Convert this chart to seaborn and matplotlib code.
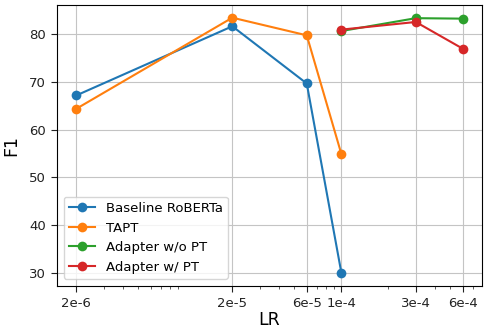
import matplotlib
matplotlib.use("Agg")
import matplotlib.pyplot as plt
import seaborn as sns
import pandas as pd
import numpy as np

# Learning rates and F1 scores per method
lr_roberta = [2e-6, 2e-5, 6e-5, 1e-4]
f1_roberta = [67.2, 81.7, 69.7, 30.0]
lr_tapt = [2e-6, 2e-5, 6e-5, 1e-4]
f1_tapt = [64.4, 83.5, 79.8, 54.9]
lr_adapter = [1e-4, 3e-4, 6e-4]
f1_adapter_nopt = [80.7, 83.4, 83.3]
f1_adapter_pt = [81.0, 82.6, 77.0]

xticks = [2e-6, 2e-5, 6e-5, 1e-4, 3e-4, 6e-4]
xtick_labels = ['2e-6', '2e-5', '6e-5', '1e-4', '3e-4', '6e-4']

df = pd.concat([
    pd.DataFrame({'LR': lr_roberta, 'F1': f1_roberta, 'Method': 'Baseline RoBERTa'}),
    pd.DataFrame({'LR': lr_tapt, 'F1': f1_tapt, 'Method': 'TAPT'}),
    pd.DataFrame({'LR': lr_adapter, 'F1': f1_adapter_nopt, 'Method': 'Adapter w/o PT'}),
    pd.DataFrame({'LR': lr_adapter, 'F1': f1_adapter_pt, 'Method': 'Adapter w/ PT'}),
])

fig, ax = plt.subplots(figsize=(4.85, 3.29), dpi=100)
sns.lineplot(data=df, x='LR', y='F1', hue='Method', marker='o', markersize=7,
             markeredgewidth=0, palette='tab10', ax=ax)
ax.set_xscale('log')
ax.set_xticks(xticks)
ax.set_xticklabels(xtick_labels)
ax.tick_params(axis='both', which='major', labelsize=9.5, length=4.5, pad=3.5, colors='#222222')
ax.tick_params(axis='x', which='minor', length=2.5, colors='#444444')
ax.grid(True, which='major', color='#c4c4c4')
ax.set_xlabel('LR', fontsize=12.5, labelpad=1)
ax.set_ylabel('F1', fontsize=12.5, labelpad=6)
ax.legend(loc='lower left', fontsize=9.5)
plt.subplots_adjust(left=0.1175, right=0.994, top=0.985, bottom=0.132)
plt.savefig('out.png')
